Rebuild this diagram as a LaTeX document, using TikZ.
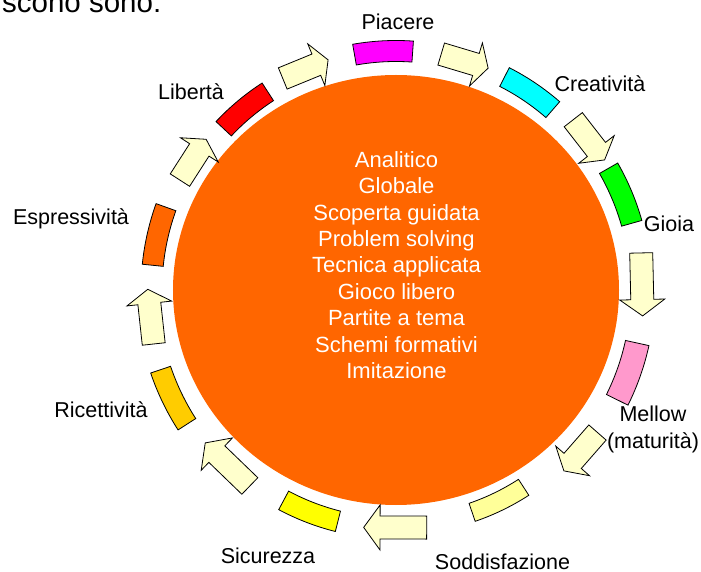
\documentclass[tikz,border=0pt]{standalone}
\usepackage{fontspec}
\setmainfont{Liberation Sans}

\definecolor{ballorange}{HTML}{FF6600}
\definecolor{arrowcream}{HTML}{FFFFCC}
\definecolor{piacerecol}{HTML}{FF00FF}
\definecolor{creativcol}{HTML}{00FFFF}
\definecolor{gioiacol}{HTML}{00FF00}
\definecolor{mellowcol}{HTML}{FF99CC}
\definecolor{soddcol}{HTML}{FFFF99}
\definecolor{sicurcol}{HTML}{FFFF00}
\definecolor{ricettcol}{HTML}{FFCC00}
\definecolor{espresscol}{HTML}{FF6600}
\definecolor{libertacol}{HTML}{FF0000}

\begin{document}
\begin{tikzpicture}[x=1pt,y=1pt,line join=miter,
  block/.style={draw=black,line width=0.8pt},
  flowarrow/.style={draw=black,line width=0.8pt,fill=arrowcream},
  stagelabel/.style={font=\fontsize{21.5}{26.3}\selectfont,inner sep=0pt}]
  \newcommand*{\ArcBlock}[4]{% angle, inner, outer, colour
    \filldraw[block,fill=#4] (#1-7:#2) arc[start angle=#1-7, end angle=#1+7, radius=#2pt]
      -- (#1+7:#3) arc[start angle=#1+7, end angle=#1-7, radius=#3pt] -- cycle;}
  \newcommand*{\FlowArrow}[3]{% angle, radius, length
    \filldraw[flowarrow,shift={(#1:#2)},rotate=#1-90]
      ({-#3/2},-11.5) -- ({#3/2-0.26*#3},-11.5) -- ({#3/2-0.26*#3},-22.5) -- ({#3/2},0)
      -- ({#3/2-0.26*#3},22.5) -- ({#3/2-0.26*#3},11.5) -- ({-#3/2},11.5) -- cycle;}
  \useasboundingbox (-396,-282) rectangle (305,290);
  \clip (-396,-282) rectangle (305,290);
  \node[anchor=base west,inner sep=0pt,font=\fontsize{29.5}{35}\selectfont] (heading) at (-394,277) {scono sono:};
  % the ball
  \fill[ballorange] (0,0) ellipse[x radius=223pt, y radius=215pt];
  \node[anchor=north,inner sep=0pt,align=center,text=white,font=\fontsize{22}{26.4}\selectfont] (methods) at (0.5,138.8)
    {Analitico\\Globale\\Scoperta guidata\\Problem solving\\Tecnica applicata\\Gioco libero\\Partite a tema\\Schemi formativi\\Imitazione};
  % stages round the ball
  \ArcBlock{93}{228.5}{249.5}{piacerecol}
  \ArcBlock{56}{228.5}{249.5}{creativcol}
  \ArcBlock{22.8}{234.5}{255.5}{gioiacol}
  \ArcBlock{-19.4}{235}{259}{mellowcol}
  \ArcBlock{-64.1}{225.5}{244.5}{soddcol}
  \ArcBlock{-111.1}{228}{249}{sicurcol}
  \ArcBlock{205.7}{238}{259}{ricettcol}
  \ArcBlock{167.2}{234}{255}{espresscol}
  \ArcBlock{129.9}{225.5}{246.5}{libertacol}
  % arrows between the stages
  \FlowArrow{112.3}{238.7}{49}
  \FlowArrow{73.3}{239}{49}
  \FlowArrow{37.9}{244.5}{51}
  \FlowArrow{1.3}{246}{63}
  \FlowArrow{-41.2}{245.5}{51}
  \FlowArrow{-90.2}{237.5}{63}
  \FlowArrow{-134}{242.5}{62}
  \FlowArrow{186.2}{246.7}{55}
  \FlowArrow{147.3}{241.2}{48.5}
  % labels
  \node[stagelabel,anchor=base] (piacere) at (2,260) {Piacere};
  \node[stagelabel,anchor=base] (creativita) at (204,198.3) {Creatività};
  \node[stagelabel,anchor=base] (gioia) at (273,58.3) {Gioia};
  \node[stagelabel,align=center] (mellow) at (257,-139.3) {Mellow\\(maturità)};
  \node[stagelabel,anchor=base] (soddisfazione) at (106.5,-279) {Soddisfazione};
  \node[stagelabel,anchor=base] (sicurezza) at (-128,-273.3) {Sicurezza};
  \node[stagelabel,anchor=base] (ricettivita) at (-295,-128) {Ricettività};
  \node[stagelabel,anchor=base] (espressivita) at (-325,65) {Espressività};
  \node[stagelabel,anchor=base] (liberta) at (-205,190) {Libertà};
\end{tikzpicture}
\end{document}
